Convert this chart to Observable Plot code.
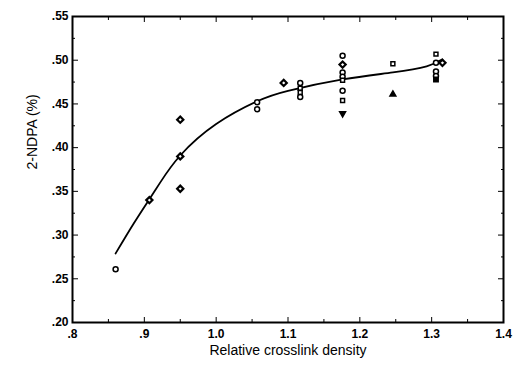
<!DOCTYPE html>
<html><head><meta charset="utf-8">
<script src="https://cdn.jsdelivr.net/npm/d3@7"></script>
<script src="https://cdn.jsdelivr.net/npm/@observablehq/plot@0.6"></script>
<style>body{margin:0;background:#fff;}</style>
</head><body><div id="chart"></div>
<script>
const px = [0.86,0.907,0.95,0.95,0.95,1.057,1.057,1.094,1.117,1.117,1.117,1.117,1.176,1.176,1.176,1.176,1.176,1.176,1.176,1.176,1.246,1.246,1.306,1.306,1.306,1.306,1.306,1.315];
const py = [0.261,0.340,0.432,0.390,0.353,0.452,0.444,0.474,0.474,0.468,0.463,0.458,0.505,0.495,0.486,0.481,0.477,0.465,0.454,0.439,0.496,0.461,0.507,0.497,0.487,0.482,0.478,0.497];
const pshape = ["circle","diamond","diamond","diamond","diamond","circle","circle","diamond","circle","square","square","circle","circle","diamond","circle","circle","square","circle","square","triangledown","square","triangle","square","circle","circle","circle","squarefill","diamond"];
const curveX = [0.86,0.885,0.907,0.922,0.95,1.0,1.057,1.1,1.176,1.246,1.293,1.315];
const curveY = [0.279,0.313,0.341,0.360,0.391,0.427,0.453,0.465,0.478,0.486,0.493,0.501];
const xTicks = [0.8,0.9,1.0,1.1,1.2,1.3,1.4];
const xTickLabels = [".8",".9","1.0","1.1","1.2","1.3","1.4"];
const yTicks = [0.20,0.25,0.30,0.35,0.40,0.45,0.50,0.55];
const yTickLabels = [".20",".25",".30",".35",".40",".45",".50",".55"];
const xMinor = [0.85,0.95,1.05,1.15,1.25,1.35];
const yMinor = [0.225,0.275,0.325,0.375,0.425,0.475,0.525];

const pts = px.map((x,i)=>({x, y: py[i], s: pshape[i]}));
const curve = curveX.map((x,i)=>({x, y: curveY[i]}));
const symMap = {circle:"circle",diamond:"diamond2",square:"square2",squarefill:"square2",triangle:"triangle2",triangledown:"triangle2"};
const openC = pts.filter(d=>["circle","square"].includes(d.s));
const openD = pts.filter(d=>d.s==="diamond");
const filled = pts.filter(d=>["squarefill","triangle"].includes(d.s));
const down = pts.filter(d=>d.s==="triangledown");
const blank = () => "";

const font = "Liberation Sans, Arial, sans-serif";
const chart = Plot.plot({
  width: 518, height: 367,
  marginLeft: 72, marginRight: 15, marginTop: 16, marginBottom: 45,
  style: {fontFamily: font, fontSize: "12px", fontWeight: "bold", color: "#000", background: "#fff"},
  x: {domain: [0.8, 1.4]},
  y: {domain: [0.20, 0.55]},
  marks: [
    Plot.frame({stroke: "#000", strokeWidth: 2}),
    Plot.axisX({ticks: xTicks, tickSize: -5, tickPadding: 12, tickFormat: (d,i)=>xTickLabels[i], label: null, fontSize: 12}),
    Plot.axisX({anchor: "top", ticks: xTicks, tickSize: -5, tickFormat: blank, label: null}),
    Plot.axisX({ticks: xMinor, tickSize: -3, tickFormat: blank, label: null}),
    Plot.axisX({anchor: "top", ticks: xMinor, tickSize: -3, tickFormat: blank, label: null}),
    Plot.axisY({ticks: yTicks, tickSize: -6, tickPadding: 10, tickFormat: (d,i)=>yTickLabels[i], label: null, fontSize: 12}),
    Plot.axisY({anchor: "right", ticks: yTicks, tickSize: -6, tickFormat: blank, label: null}),
    Plot.axisY({ticks: yMinor, tickSize: -3, tickFormat: blank, label: null}),
    Plot.axisY({anchor: "right", ticks: yMinor, tickSize: -3, tickFormat: blank, label: null}),
    Plot.line(curve, {x: "x", y: "y", curve: "natural", stroke: "#000", strokeWidth: 1.8}),
    Plot.dot(openC, {x: "x", y: "y", symbol: d=>symMap[d.s], r: 2.5, stroke: "#000", strokeWidth: 1.5, fill: "#fff"}),
    Plot.dot(openD, {x: "x", y: "y", symbol: "diamond2", r: 2.8, stroke: "#000", strokeWidth: 2.2, fill: "#fff"}),
    Plot.dot(filled, {x: "x", y: "y", symbol: d=>symMap[d.s], r: 2.8, stroke: "#000", fill: "#000"}),
    Plot.dot(down, {x: "x", y: "y", symbol: "triangle2", rotate: 180, r: 2.8, stroke: "#000", fill: "#000"}),
    Plot.text(["Relative crosslink density"], {frameAnchor: "bottom", dy: 32, fontSize: 14, fontWeight: "normal", text: d=>d}),
    Plot.text(["2-NDPA (%)"], {frameAnchor: "left", dx: -40, rotate: -90, fontSize: 14, fontWeight: "normal", text: d=>d})
  ]
});
document.getElementById("chart").appendChild(chart);
</script>
</body></html>
